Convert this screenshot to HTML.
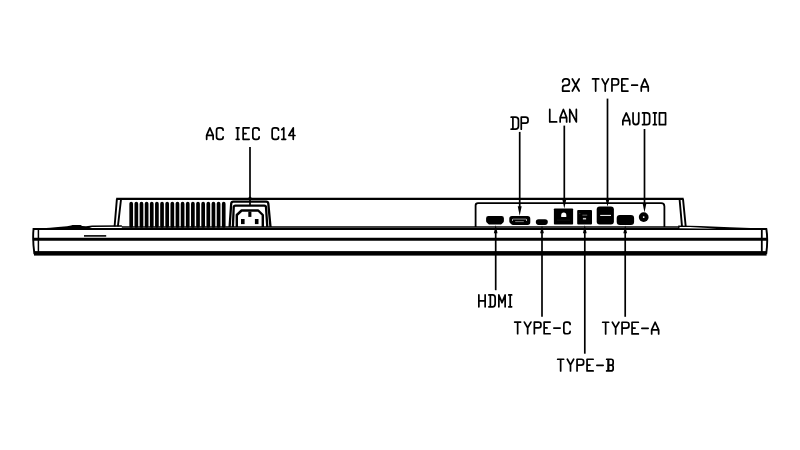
<!DOCTYPE html>
<html><head><meta charset="utf-8"><title>Rear I/O ports</title>
<style>
html,body{margin:0;padding:0;background:#fff;}
body{width:800px;height:450px;overflow:hidden;font-family:"Liberation Sans",sans-serif;}
svg{display:block;}
</style></head><body>
<svg width="800" height="450" viewBox="0 0 800 450">
<rect width="800" height="450" fill="#fff"/>
<rect x="129.35" y="201.8" width="3.7" height="26" rx="1.85" fill="#000"/>
<rect x="134.49" y="201.8" width="3.7" height="26" rx="1.85" fill="#000"/>
<rect x="139.63" y="201.8" width="3.7" height="26" rx="1.85" fill="#000"/>
<rect x="144.77" y="201.8" width="3.7" height="26" rx="1.85" fill="#000"/>
<rect x="149.91" y="201.8" width="3.7" height="26" rx="1.85" fill="#000"/>
<rect x="155.05" y="201.8" width="3.7" height="26" rx="1.85" fill="#000"/>
<rect x="160.19" y="201.8" width="3.7" height="26" rx="1.85" fill="#000"/>
<rect x="165.33" y="201.8" width="3.7" height="26" rx="1.85" fill="#000"/>
<rect x="170.47" y="201.8" width="3.7" height="26" rx="1.85" fill="#000"/>
<rect x="175.61" y="201.8" width="3.7" height="26" rx="1.85" fill="#000"/>
<rect x="180.75" y="201.8" width="3.7" height="26" rx="1.85" fill="#000"/>
<rect x="185.89" y="201.8" width="3.7" height="26" rx="1.85" fill="#000"/>
<rect x="191.03" y="201.8" width="3.7" height="26" rx="1.85" fill="#000"/>
<rect x="196.17" y="201.8" width="3.7" height="26" rx="1.85" fill="#000"/>
<rect x="201.31" y="201.8" width="3.7" height="26" rx="1.85" fill="#000"/>
<rect x="206.45" y="201.8" width="3.7" height="26" rx="1.85" fill="#000"/>
<rect x="211.59" y="201.8" width="3.7" height="26" rx="1.85" fill="#000"/>
<rect x="216.73" y="201.8" width="3.7" height="26" rx="1.85" fill="#000"/>
<rect x="221.87" y="201.8" width="3.7" height="26" rx="1.85" fill="#000"/>
<path d="M116.2,198.9 L683.6,198.9" stroke="#000" stroke-width="2.2" fill="none"/>
<path d="M116.9,198.8 L114.6,226.3 M121,199.5 L117.9,226.3 M683,198.8 L685.7,226.3 M679.6,199.5 L682,226.3" stroke="#000" stroke-width="1.9" fill="none"/>
<path d="M121.8,227 L679,227" stroke="#000" stroke-width="1.6" fill="none"/>
<path d="M33.5,229 L767,229" stroke="#000" stroke-width="1.8" fill="none"/>
<path d="M32.8,239.3 L767.6,239.3" stroke="#000" stroke-width="2.9" fill="none"/>
<rect x="34" y="251.1" width="732.6" height="4.5" fill="#000"/>
<path d="M33.6,228 Q32.4,240 34.4,254 M766.3,228.5 Q768.2,240 766.2,254" stroke="#000" stroke-width="1.9" fill="none"/>
<path d="M38.4,228.5 L38.4,252" stroke="#000" stroke-width="1.5" fill="none"/>
<path d="M761.8,229 L761.8,252" stroke="#000" stroke-width="1.8" fill="none"/>
<path d="M38,228.4 L50,227.7 L58,227.1 L67,226.2 L71,225.4 L72.5,224.9 L80.6,224.9 L82.2,225.9 L86,226.2 L92,225.4 L121.5,225.3 L122.6,226.6 L121.5,226.8 L92,226.9 L88,228.5 Z" fill="#000"/>
<path d="M84,235.9 L106.2,235.9" stroke="#000" stroke-width="1.6"/>
<path d="M678.2,225.4 L700,226.1 L730,227.3 L764,228.6 L764,229.8 L678.2,229 Z" fill="#000"/>
<path d="M679.5,226.9 L690,227.1 L703,227.7 L717,228.5 L700,228.5 L679.5,228.3 Z" fill="#fff"/>
<path d="M229.6,227 L231.2,203.6 Q231.4,201.7 233.3,201.7 L266.2,201.7 Q268.1,201.7 268.3,203.6 L270.5,227" stroke="#000" stroke-width="2.3" fill="none"/>
<path d="M232.9,227 L233.7,207.2 Q233.8,205.6 235.4,205.6 L264.3,205.6 Q265.9,205.6 266,207.2 L267.3,227" stroke="#000" stroke-width="2.3" fill="none"/>
<path d="M236.8,227 L236.8,215 L241.6,210.5 L258.2,210.5 L262.8,215 L262.8,227" stroke="#000" stroke-width="2.4" fill="none" stroke-linejoin="round"/>
<rect x="248.3" y="211.6" width="3.1" height="5.3" fill="#000"/><rect x="241" y="219" width="3.6" height="5.1" fill="#000"/><rect x="254.9" y="219" width="3.6" height="5.1" fill="#000"/>
<path d="M475.6,227 L475.6,205.6 Q475.6,203.2 478,203.2 L661.2,203.2 Q664.4,203.2 664.4,206.4 L664.4,227" stroke="#000" stroke-width="1.8" fill="none"/>
<path d="M488.4,216 L501.6,216 Q503.9,216 503.9,218.3 L503.9,221 Q503.9,221.8 503.3,222.4 L501.7,224 Q501.1,224.6 500.2,224.6 L489.8,224.6 Q488.9,224.6 488.3,224 L486.7,222.4 Q486.1,221.8 486.1,221 L486.1,218.3 Q486.1,216 488.4,216 Z" fill="#000"/>
<path d="M511.9,216 L527.6,216 Q530.3,216 530.3,218.7 L530.3,222.3 Q530.3,225 527.6,225 L513,225 Q512,225 511.3,224.3 L510,223 Q509.3,222.3 509.3,221.3 L509.3,218.6 Q509.3,216 511.9,216 Z" fill="#000"/>
<path d="M512.5,220.9 L512.5,219.6 Q512.5,219.1 513,219.1 L526,219.1 Q526.5,219.1 526.5,219.6 L526.5,220.9" fill="none" stroke="#9a9a9a" stroke-width="0.9"/>
<path d="M512.5,219.4 L512.5,220.6 M526.5,219.4 L526.5,220.6" stroke="#d8d8d8" stroke-width="0.9"/>
<path d="M515.2,221.6 L523.8,221.6" stroke="#9a9a9a" stroke-width="0.8"/>
<rect x="535.8" y="219.3" width="12" height="5.6" rx="2.8" fill="#000"/>
<rect x="553.9" y="208.4" width="19.2" height="16.2" rx="0.8" fill="#000"/>
<path d="M561.2,217 L561.2,215.2 Q561.2,212.4 563.75,212.4 Q566.3,212.4 566.3,215.2 L566.3,217 Z" fill="#fff"/>
<path d="M557,220.2 L570,220.2" stroke="#141414" stroke-width="0.8"/>
<rect x="577.2" y="210.1" width="14.8" height="14.5" rx="1" fill="#000"/>
<path d="M582.4,215.2 L587.2,215.2" stroke="#707070" stroke-width="0.9"/><rect x="582.9" y="217.9" width="3.2" height="1.6" fill="#c4c4c4"/><circle cx="579.8" cy="213.6" r="0.6" fill="#444"/>
<rect x="596.7" y="206.4" width="17.2" height="18.2" rx="3" fill="#000"/>
<path d="M600.2,215.4 L611,215.4" stroke="#fff" stroke-width="1"/>
<rect x="616.7" y="214.9" width="17.4" height="10" rx="3.2" fill="#000"/>
<circle cx="643.7" cy="217.1" r="4.9" fill="#000"/><circle cx="643.7" cy="217.1" r="0.9" fill="#fff"/>
<line x1="250" y1="147.1" x2="250" y2="205" stroke="#000" stroke-width="1.7"/>
<circle cx="250" cy="198.1" r="1.5" fill="#000"/>
<line x1="519.7" y1="131.9" x2="519.7" y2="208" stroke="#000" stroke-width="1.7"/>
<path d="M517.75,206.2 L521.6500000000001,206.2 L519.7,215.8 Z" fill="#000"/>
<line x1="564.3" y1="125.6" x2="564.3" y2="201" stroke="#000" stroke-width="1.7"/>
<path d="M562.3499999999999,199.5 L566.25,199.5 L564.3,208.6 Z" fill="#000"/>
<line x1="607.5" y1="98.6" x2="607.5" y2="201" stroke="#000" stroke-width="1.7"/>
<path d="M605.55,199 L609.45,199 L607.5,206.6 Z" fill="#000"/>
<line x1="644.5" y1="129" x2="644.5" y2="205" stroke="#000" stroke-width="1.7"/>
<path d="M642.65,203.6 L646.35,203.6 L644.5,212.6 Z" fill="#000"/>
<line x1="495.7" y1="231" x2="495.7" y2="290.2" stroke="#000" stroke-width="1.7"/>
<path d="M493.84999999999997,233.2 L497.55,233.2 L495.7,225 Z" fill="#000"/>
<line x1="542" y1="231" x2="542" y2="316.8" stroke="#000" stroke-width="1.7"/>
<path d="M540.15,233.2 L543.85,233.2 L542,225.4 Z" fill="#000"/>
<line x1="584.8" y1="231" x2="584.8" y2="353.7" stroke="#000" stroke-width="1.7"/>
<path d="M582.9499999999999,233.2 L586.65,233.2 L584.8,225 Z" fill="#000"/>
<line x1="625.2" y1="231" x2="625.2" y2="316.8" stroke="#000" stroke-width="1.7"/>
<path d="M623.35,233.2 L627.0500000000001,233.2 L625.2,225.4 Z" fill="#000"/>
<path d="M 206.66,139.34 L 206.66,135.42 L 209.90,127.86 L 213.14,135.42 L 213.14,139.34 M 206.66,135.42 L 213.14,135.42 M 223.14,130.25 Q 223.14,127.86 220.71,127.86 L 218.99,127.86 Q 216.56,127.86 216.56,130.16 L 216.56,137.04 Q 216.56,139.34 218.99,139.34 L 220.71,139.34 Q 223.14,139.34 223.14,136.95 M 236.26,127.86 L 239.04,127.86 M 236.26,139.34 L 239.04,139.34 M 237.65,127.86 L 237.65,139.34 M 249.14,127.86 L 243.16,127.86 L 243.16,139.34 L 249.14,139.34 M 243.16,133.60 L 246.05,133.60 M 259.14,130.25 Q 259.14,127.86 256.82,127.86 L 255.18,127.86 Q 252.86,127.86 252.86,130.16 L 252.86,137.04 Q 252.86,139.34 255.18,139.34 L 256.82,139.34 Q 259.14,139.34 259.14,136.95 M 278.54,130.25 Q 278.54,127.86 276.18,127.86 L 274.52,127.86 Q 272.16,127.86 272.16,130.16 L 272.16,137.04 Q 272.16,139.34 274.52,139.34 L 276.18,139.34 Q 278.54,139.34 278.54,136.95 M 281.86,129.68 L 283.75,127.86 L 283.75,139.34 M 281.86,139.34 L 285.64,139.34 M 293.26,139.34 L 293.26,127.86 L 288.86,135.51 L 294.94,135.51 M 511.16,117.16 L 515.40,117.16 Q 518.44,117.16 518.44,119.96 L 518.44,126.34 Q 518.44,129.14 515.40,129.14 L 511.16,129.14 M 512.90,117.16 L 512.90,129.14 M 521.26,129.14 L 521.26,117.16 L 525.54,117.16 Q 528.04,117.16 528.04,119.56 L 528.04,120.75 Q 528.04,123.15 525.54,123.15 L 521.26,123.15 M 549.76,109.46 L 549.76,121.94 L 556.64,121.94 M 560.16,121.94 L 560.16,117.68 L 563.40,109.46 L 566.64,117.68 L 566.64,121.94 M 560.16,117.68 L 566.64,117.68 M 569.76,121.94 L 569.76,109.46 L 576.34,121.94 L 576.34,109.46 M 562.66,81.78 Q 562.66,78.96 565.43,78.96 L 566.57,78.96 Q 569.34,78.96 569.34,81.68 L 569.34,82.79 Q 569.34,85.30 566.77,85.30 L 565.23,85.30 Q 562.66,85.30 562.66,87.82 L 562.66,91.04 L 569.34,91.04 M 572.36,78.96 L 579.14,91.04 M 579.14,78.96 L 572.36,91.04 M 592.56,78.96 L 598.74,78.96 M 595.65,78.96 L 595.65,91.04 M 602.06,78.96 L 605.25,84.80 L 608.44,78.96 M 605.25,84.80 L 605.25,91.04 M 611.96,91.04 L 611.96,78.96 L 616.11,78.96 Q 618.54,78.96 618.54,81.38 L 618.54,82.58 Q 618.54,85.00 616.11,85.00 L 611.96,85.00 M 627.94,78.96 L 621.86,78.96 L 621.86,91.04 L 627.94,91.04 M 621.86,85.00 L 624.80,85.00 M 631.76,85.20 L 637.44,85.20 M 641.26,91.04 L 641.26,86.91 L 644.75,78.96 L 648.24,86.91 L 648.24,91.04 M 641.26,86.91 L 648.24,86.91 M 622.86,124.64 L 622.86,120.65 L 626.30,112.96 L 629.74,120.65 L 629.74,124.64 M 622.86,120.65 L 629.74,120.65 M 633.06,112.96 L 633.06,121.62 Q 633.06,124.64 635.90,124.64 Q 638.74,124.64 638.74,121.62 L 638.74,112.96 M 642.56,112.96 L 646.68,112.96 Q 649.64,112.96 649.64,115.69 L 649.64,121.91 Q 649.64,124.64 646.68,124.64 L 642.56,124.64 M 644.25,112.96 L 644.25,124.64 M 653.36,112.96 L 656.34,112.96 M 653.36,124.64 L 656.34,124.64 M 654.85,112.96 L 654.85,124.64 M 659.46,112.96 L 665.54,112.96 L 665.54,124.64 L 659.46,124.64 Z M 478.86,294.96 L 478.86,306.84 M 485.14,294.96 L 485.14,306.84 M 478.86,300.90 L 485.14,300.90 M 488.86,294.96 L 492.52,294.96 Q 495.14,294.96 495.14,297.73 L 495.14,304.07 Q 495.14,306.84 492.52,306.84 L 488.86,306.84 M 490.36,294.96 L 490.36,306.84 M 498.86,306.84 L 498.86,294.96 L 502.00,302.68 L 505.14,294.96 L 505.14,306.84 M 508.76,294.96 L 511.64,294.96 M 508.76,306.84 L 511.64,306.84 M 510.20,294.96 L 510.20,306.84 M 514.66,322.06 L 520.64,322.06 M 517.65,322.06 L 517.65,333.74 M 524.36,322.06 L 527.65,327.71 L 530.94,322.06 M 527.65,327.71 L 527.65,333.74 M 534.36,333.74 L 534.36,322.06 L 538.51,322.06 Q 540.94,322.06 540.94,324.40 L 540.94,325.56 Q 540.94,327.90 538.51,327.90 L 534.36,327.90 M 550.14,322.06 L 544.16,322.06 L 544.16,333.74 L 550.14,333.74 M 544.16,327.90 L 547.05,327.90 M 553.86,328.09 L 560.14,328.09 M 570.14,324.49 Q 570.14,322.06 567.82,322.06 L 566.18,322.06 Q 563.86,322.06 563.86,324.40 L 563.86,331.40 Q 563.86,333.74 566.18,333.74 L 567.82,333.74 Q 570.14,333.74 570.14,331.31 M 602.66,322.26 L 608.64,322.26 M 605.65,322.26 L 605.65,333.94 M 612.36,322.26 L 615.65,327.91 L 618.94,322.26 M 615.65,327.91 L 615.65,333.94 M 622.06,333.94 L 622.06,322.26 L 626.40,322.26 Q 628.94,322.26 628.94,324.60 L 628.94,325.76 Q 628.94,328.10 626.40,328.10 L 622.06,328.10 M 638.34,322.26 L 632.06,322.26 L 632.06,333.94 L 638.34,333.94 M 632.06,328.10 L 635.10,328.10 M 641.86,328.29 L 648.14,328.29 M 651.66,333.94 L 651.66,329.95 L 655.15,322.26 L 658.64,329.95 L 658.64,333.94 M 651.66,329.95 L 658.64,329.95 M 557.66,359.26 L 563.64,359.26 M 560.65,359.26 L 560.65,370.94 M 567.36,359.26 L 570.50,364.91 L 573.64,359.26 M 570.50,364.91 L 570.50,370.94 M 577.06,370.94 L 577.06,359.26 L 581.21,359.26 Q 583.64,359.26 583.64,361.60 L 583.64,362.76 Q 583.64,365.10 581.21,365.10 L 577.06,365.10 M 593.14,359.26 L 587.06,359.26 L 587.06,370.94 L 593.14,370.94 M 587.06,365.10 L 590.00,365.10 M 596.86,365.29 L 603.14,365.29 M 606.66,359.26 L 611.01,359.26 Q 613.14,359.26 613.14,361.21 L 613.14,363.15 Q 613.14,365.10 611.21,365.10 L 608.11,365.10 M 611.21,365.10 Q 613.14,365.10 613.14,367.05 L 613.14,368.99 Q 613.14,370.94 611.01,370.94 L 606.66,370.94 M 608.11,359.26 L 608.11,370.94 M 608.59,359.26 L 608.59,370.94" stroke="#000" stroke-width="1.72" fill="none" stroke-linecap="round" stroke-linejoin="round"/>
</svg>
</body></html>
